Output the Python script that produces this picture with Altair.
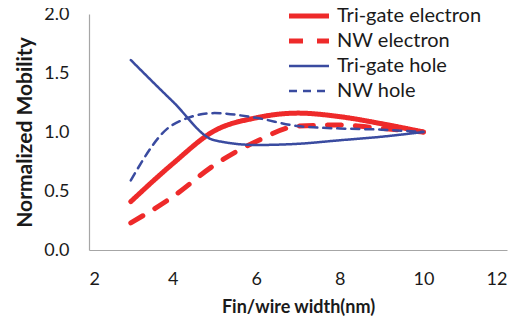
import altair as alt
import pandas as pd

widths = [3, 4, 5, 6, 7, 8, 9, 10]
trigate_electron = [0.41, 0.73, 1.01, 1.12, 1.16, 1.13, 1.07, 1.00]
nw_electron = [0.23, 0.45, 0.72, 0.92, 1.05, 1.06, 1.03, 1.00]
trigate_hole = [1.61, 1.26, 0.93, 0.89, 0.90, 0.93, 0.96, 1.00]
nw_hole = [0.59, 1.06, 1.16, 1.12, 1.05, 1.03, 1.02, 1.00]

series_names = ["Tri-gate electron", "NW electron", "Tri-gate hole", "NW hole"]
series_values = [trigate_electron, nw_electron, trigate_hole, nw_hole]

rows = []
for name, vals in zip(series_names, series_values):
    for w, v in zip(widths, vals):
        rows.append({"width": w, "mobility": v, "series": name})
df = pd.DataFrame(rows)

red = "#EE2A2A"
blue = "#3A4BA0"

def leg():
    return alt.Legend(title=None, orient="none", legendX=210, legendY=-8,
                      symbolType="M-4,0H4", symbolSize=100,
                      labelFontSize=20, labelFont="Lato", labelColor="#1a1a1a",
                      rowPadding=5, labelOffset=18, labelLimit=300)

chart = alt.Chart(df).mark_line(interpolate="monotone", strokeCap="round").encode(
    x=alt.X("width:Q", title="Fin/wire width(nm)",
            scale=alt.Scale(domain=[2, 12], nice=False),
            axis=alt.Axis(values=[2, 4, 6, 8, 10, 12], grid=False, ticks=False,
                          labelPadding=20, titlePadding=10)),
    y=alt.Y("mobility:Q", title="Normalized Mobility",
            scale=alt.Scale(domain=[0, 2], nice=False),
            axis=alt.Axis(values=[0, 0.5, 1.0, 1.5, 2.0], format=".1f", grid=False,
                          ticks=False, labelPadding=20, titlePadding=8,
                          titleFontSize=21)),
    color=alt.Color("series:N", sort=series_names,
                    scale=alt.Scale(domain=series_names, range=[red, red, blue, blue]),
                    legend=leg()),
    strokeDash=alt.StrokeDash("series:N", sort=series_names,
                              scale=alt.Scale(domain=series_names,
                                              range=[[1, 0], [14, 14], [1, 0], [8, 6]]),
                              legend=leg()),
    strokeWidth=alt.StrokeWidth("series:N", sort=series_names,
                                scale=alt.Scale(type="ordinal", domain=series_names,
                                                range=[5, 5, 2.5, 2.5]),
                                legend=leg()),
).properties(
    width=418, height=236,
    autosize=alt.AutoSizeParams(type="none"),
    padding={"left": 81, "top": 6, "right": 16, "bottom": 72},
).configure_view(stroke=None).configure_axis(
    domainColor="#a6a6a6", domainWidth=1.2,
    labelFont="Lato", labelFontSize=18, labelColor="#1a1a1a",
    titleFont="Lato", titleFontSize=18, titleFontWeight="bold", titleColor="#1a1a1a",
)

chart.save("out.html", embed_options={"renderer": "svg", "actions": False})
